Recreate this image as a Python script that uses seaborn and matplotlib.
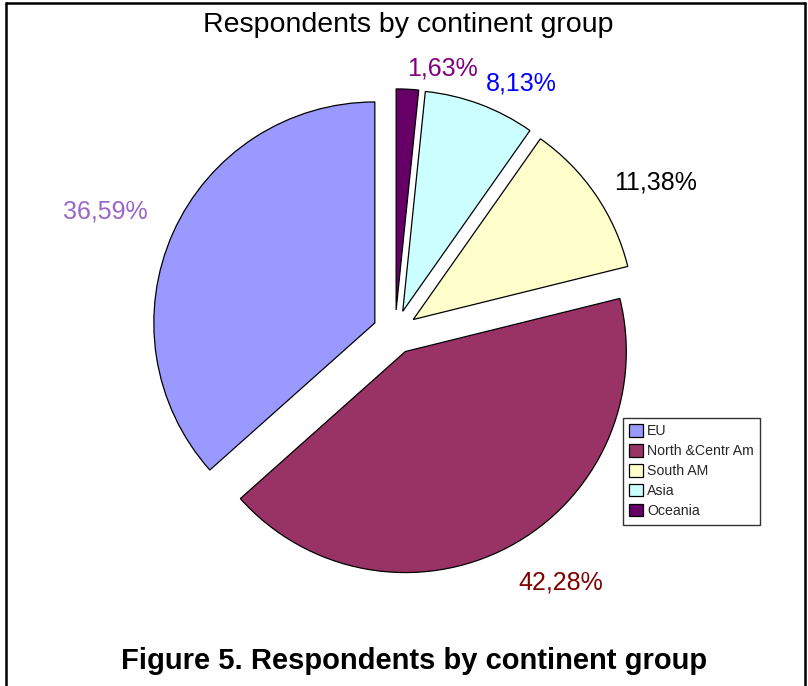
import numpy as np
import matplotlib
matplotlib.use("Agg")
import matplotlib.pyplot as plt
import seaborn as sns
from matplotlib.lines import Line2D

sns.set_theme(style="white")
plt.rcParams['font.family'] = ['Liberation Sans', 'DejaVu Sans']

# ---- data ----
categories = ["EU", "North &Centr Am", "South AM", "Asia", "Oceania"]
shares = [36.59, 42.28, 11.38, 8.13, 1.63]
pct_labels = ["36,59%", "42,28%", "11,38%", "8,13%", "1,63%"]

# ---- styles ----
colors = ["#9999FF", "#993366", "#FFFFCC", "#CCFFFF", "#660066"]
label_colors = ["#9966CC", "#800000", "#000000", "#0000FF", "#800080"]
label_r = [1.42, 1.36, 1.36, 1.26, 1.21]
label_shift = [1.6, 5.6, -4.6, -6.4, -7.2]  # degrees relative to wedge mid-angle

W, H = 808, 686
fig = plt.figure(figsize=(W / 100, H / 100), dpi=100)
ax = fig.add_axes([0, 0, 1, 1])

cx, cy, R = 395, 332, 221
wedges, _ = ax.pie(shares, colors=colors, startangle=90, counterclock=True,
                   explode=[0.1] * len(shares),
                   wedgeprops=dict(edgecolor="black", linewidth=0.9))
ax.set_aspect("auto")
ax.set_xlim(-cx / R, (W - cx) / R)
ax.set_ylim(-(H - cy) / R, cy / R)
ax.axis("off")

for w, txt, col, r, sh in zip(wedges, pct_labels, label_colors, label_r, label_shift):
    mid = np.deg2rad((w.theta1 + w.theta2) / 2 + sh)
    ax.text(r * np.cos(mid), r * np.sin(mid), txt, color=col, fontsize=18,
            ha="center", va="center")

fig.text(408.5 / W, 1 - 25 / H, "Respondents by continent group",
         ha="center", va="center", fontsize=20.5, color="black")
fig.text(414 / W, 1 - 661 / H, "Figure 5. Respondents by continent group",
         ha="center", va="center", fontsize=21, fontweight="bold", color="black")

leg = fig.legend(wedges, categories, loc="upper left",
                 bbox_to_anchor=(623 / W, 1 - 418 / H), frameon=True,
                 fontsize=10.2, handlelength=0.95, handleheight=0.95,
                 handletextpad=0.3, labelspacing=0.42, borderpad=0.45,
                 borderaxespad=0, fancybox=False)
leg.get_frame().set_edgecolor("black")
leg.get_frame().set_linewidth(1.0)

# outer frame (open at bottom)
for xs, ys in [([6, 6], [H, 3]), ([6, 805], [3, 3]), ([805, 805], [3, H])]:
    fig.add_artist(Line2D([x / W for x in xs], [1 - y / H for y in ys],
                          transform=fig.transFigure, color="black", linewidth=1.8))

fig.savefig("out.png", dpi=100)
